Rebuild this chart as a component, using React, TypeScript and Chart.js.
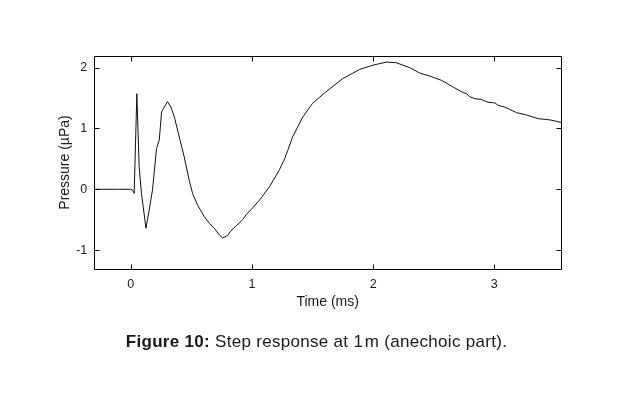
import React, { useEffect, useRef } from "react";
import { Chart, registerables } from "chart.js";

Chart.register(...registerables);

const timeMs = [
  -0.3, -0.1, 0.0, 0.015, 0.029, 0.051, 0.07, 0.089, 0.103, 0.126, 0.153, 0.18,
  0.202, 0.213, 0.236, 0.255, 0.271, 0.304, 0.332, 0.36, 0.401, 0.442, 0.483,
  0.511, 0.552, 0.607, 0.649, 0.69, 0.731, 0.759, 0.8, 0.82, 0.87, 0.924, 0.952,
  1.0, 1.062, 1.145, 1.227, 1.27, 1.296, 1.336, 1.42, 1.5, 1.61, 1.75, 1.89, 2.0,
  2.11, 2.19, 2.3, 2.384, 2.467, 2.564, 2.66, 2.742, 2.77, 2.798, 2.839, 2.894,
  2.949, 3.004, 3.031, 3.087, 3.128, 3.183, 3.266, 3.362, 3.459, 3.55,
];
const pressureUPa = [
  0, 0, 0, -0.01, -0.066, 1.57, 0.37, -0.07, -0.28, -0.64, -0.34, -0.01, 0.43,
  0.67, 0.81, 1.27, 1.33, 1.44, 1.35, 1.19, 0.86, 0.53, 0.15, -0.07, -0.26,
  -0.45, -0.56, -0.64, -0.75, -0.8, -0.76, -0.7, -0.6, -0.5, -0.42, -0.32,
  -0.18, 0.04, 0.32, 0.5, 0.64, 0.86, 1.19, 1.41, 1.6, 1.82, 1.97, 2.04, 2.09,
  2.08, 2.0, 1.91, 1.86, 1.79, 1.68, 1.59, 1.57, 1.52, 1.49, 1.475, 1.43, 1.42,
  1.38, 1.35, 1.31, 1.26, 1.22, 1.16, 1.14, 1.1,
];
const xTicks = [0, 1, 2, 3];
const yTicks = [-1, 0, 1, 2];
const xLabel = "Time (ms)";
const yLabel = "Pressure (\u00b5Pa)";

const FONT = "'Liberation Sans', Arial, Helvetica, sans-serif";
const TEXT = "#1a1a1a";

const frameTicks = {
  id: "frameTicks",
  afterDraw(chart: any) {
    const { ctx, chartArea: a, scales } = chart;
    const L = 5;
    ctx.save();
    ctx.strokeStyle = "#000";
    ctx.lineWidth = 1;
    const l = Math.round(a.left) + 0.5;
    const r = Math.round(a.right) + 0.5;
    const t = Math.round(a.top) + 0.5;
    const b = Math.round(a.bottom) + 0.5;
    ctx.beginPath();
    ctx.rect(l, t, r - l, b - t);
    for (const v of xTicks) {
      const px = Math.round(scales.x.getPixelForValue(v)) + 0.5;
      ctx.moveTo(px, b);
      ctx.lineTo(px, b - L);
      ctx.moveTo(px, t);
      ctx.lineTo(px, t + L);
    }
    for (const v of yTicks) {
      const py = Math.round(scales.y.getPixelForValue(v)) + 0.5;
      ctx.moveTo(l, py);
      ctx.lineTo(l + L, py);
      ctx.moveTo(r, py);
      ctx.lineTo(r - L, py);
    }
    ctx.stroke();
    ctx.restore();
  },
};

export default function App() {
  const ref = useRef<HTMLCanvasElement | null>(null);
  useEffect(() => {
    if (!ref.current) return;
    const chart = new Chart(ref.current, {
      type: "scatter",
      data: {
        datasets: [
          {
            data: timeMs.map((t, i) => ({ x: t, y: pressureUPa[i] })),
            showLine: true,
            borderColor: "#111",
            borderWidth: 1,
            pointRadius: 0,
            tension: 0,
          },
        ],
      },
      options: {
        animation: false,
        responsive: false,
        maintainAspectRatio: false,
        layout: { padding: { left: 57, right: 78, top: 56, bottom: 80 } },
        plugins: { legend: { display: false }, tooltip: { enabled: false } },
        scales: {
          x: {
            type: "linear",
            min: -0.3,
            max: 3.55,
            afterFit: (s: any) => {
              s.height = 49;
            },
            afterBuildTicks: (s: any) => {
              s.ticks = xTicks.map((v) => ({ value: v }));
            },
            grid: { display: false, drawTicks: false },
            border: { display: false },
            ticks: {
              padding: 8,
              color: TEXT,
              font: { family: FONT, size: 12.5 },
              callback: (v: any) => String(v),
            },
            title: {
              display: true,
              text: xLabel,
              color: TEXT,
              font: { family: FONT, size: 14 },
              padding: { top: 0, bottom: 7.5 },
            },
          },
          y: {
            type: "linear",
            min: -1.31,
            max: 2.19,
            afterFit: (s: any) => {
              s.width = 37.3;
            },
            afterBuildTicks: (s: any) => {
              s.ticks = yTicks.map((v) => ({ value: v }));
            },
            grid: { display: false, drawTicks: false },
            border: { display: false },
            ticks: {
              padding: 7,
              color: TEXT,
              font: { family: FONT, size: 12.5 },
              callback: (v: any) => String(v),
            },
            title: {
              display: true,
              text: yLabel,
              color: TEXT,
              font: { family: FONT, size: 14 },
              padding: { top: 0, bottom: 0 },
            },
          },
        },
      },
      plugins: [frameTicks],
    });
    return () => chart.destroy();
  }, []);

  return (
    <div
      style={{
        position: "fixed",
        left: 0,
        top: 0,
        width: 639,
        height: 398,
        background: "#fff",
      }}
    >
      <canvas ref={ref} width={639} height={398} style={{ display: "block" }} />
      <div
        style={{
          position: "absolute",
          left: 0,
          width: 633,
          top: 332,
          lineHeight: "20px",
          textAlign: "center",
          fontFamily: FONT,
          fontSize: 17,
          letterSpacing: "0.3px",
          color: TEXT,
          whiteSpace: "nowrap",
        }}
      >
        <b>Figure 10:</b> Step response at 1&#8202;m (anechoic part).
      </div>
    </div>
  );
}
